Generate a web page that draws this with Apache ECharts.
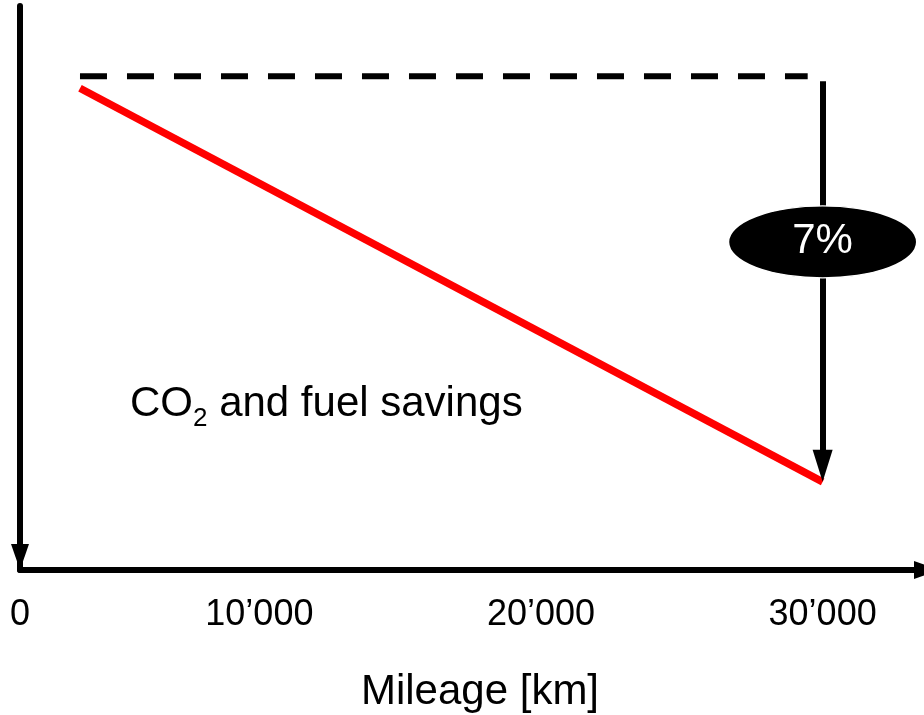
<!DOCTYPE html>
<html>
<head>
<meta charset="utf-8">
<script src="https://cdn.jsdelivr.net/npm/echarts@6/dist/echarts.min.js"></script>
<style>
  html, body {margin: 0; padding: 0; background: #fff;}
  #chart {width: 924px; height: 715px;}
</style>
</head>
<body>
<div id="chart"></div>
<script>
// x axis (km): schematic, the origin is labelled "0"
var xMin = 1500;
var xMax = 33600;
var xTickValues = [0, 10000, 20000, 30000];
var xTickLabels = ['0', '10\u2019000', '20\u2019000', '30\u2019000'];

// y axis: relative consumption index (baseline = 100)
var yMin = 91.48;
var yMax = 101.21;

var savingsLine = [[3630, 99.79], [30000, 93]];   // red line
var baselineLine = [[3630, 100], [29470, 100]];   // dashed reference
var arrowFrom = [30000, 99.91];
var arrowTo = [30000, 93.28];                     // head tip lands on the red line end
var badgePoint = [[30000, 97.14]];
var badgeText = '7%';

var font = 'Liberation Sans, Arial, sans-serif';

// the "0" tick sits on the axis origin
var tickPositions = xTickValues.map(function (v) { return Math.max(v, xMin); });

var myChart = echarts.init(document.getElementById('chart'));
myChart.setOption({
  animation: false,
  grid: {
    left: 20,
    right: 0,
    top: 6,
    bottom: 145,
    containLabel: false,
    outerBoundsMode: 'none'
  },
  xAxis: {
    type: 'value',
    min: xMin,
    max: xMax,
    name: 'Mileage [km]',
    nameLocation: 'middle',
    nameGap: 101,
    nameTextStyle: {
      fontSize: 42,
      fontFamily: font,
      color: '#000',
      padding: [0, 0, 0, 16]
    },
    axisLine: {
      show: true,
      onZero: false,
      symbol: ['none', 'triangle'],
      symbolSize: [18, 26],
      symbolOffset: [0, 3],
      lineStyle: {color: '#000', width: 6}
    },
    axisTick: {show: false},
    splitLine: {show: false},
    axisLabel: {
      show: true,
      customValues: tickPositions,
      showMinLabel: true,
      showMaxLabel: true,
      hideOverlap: false,
      formatter: function (v) {
        var i = tickPositions.indexOf(v);
        return i < 0 ? '' : xTickLabels[i];
      },
      fontSize: 36,
      fontFamily: font,
      color: '#000',
      margin: 27
    }
  },
  yAxis: {
    type: 'value',
    min: yMin,
    max: yMax,
    axisLine: {
      show: true,
      onZero: false,
      symbol: ['triangle', 'none'],
      symbolSize: [18, 26],
      symbolOffset: [13, 0],
      lineStyle: {color: '#000', width: 6}
    },
    axisTick: {show: false},
    axisLabel: {show: false},
    splitLine: {show: false}
  },
  graphic: [{
    type: 'text',
    left: 130,
    top: 377,
    style: {
      text: '{a|CO}{s|2}{a| and fuel savings}',
      rich: {
        a: {fontSize: 42, fontFamily: font, lineHeight: 48, fill: '#000'},
        // subscript: top padding pushes the "2" below the baseline
        s: {fontSize: 26, fontFamily: font, lineHeight: 26, padding: [29, 0, 0, 0], fill: '#000'}
      }
    }
  }],
  series: [
    {
      name: 'savings',
      type: 'line',
      data: savingsLine,
      symbol: 'none',
      lineStyle: {color: '#ff0000', width: 7.5, cap: 'butt'},
      z: 3
    },
    {
      name: 'baseline',
      type: 'line',
      data: baselineLine,
      symbol: 'none',
      lineStyle: {color: '#000', width: 6, type: [27, 20]},
      markLine: {
        silent: true,
        symbol: ['none', 'triangle'],
        label: {show: false},
        lineStyle: {color: '#000', width: 6, type: 'solid'},
        data: [[
          {coord: arrowFrom, symbol: 'none'},
          {coord: arrowTo, symbol: 'triangle', symbolSize: [20, 32]}
        ]]
      },
      z: 2
    },
    {
      name: 'badge',
      type: 'scatter',
      data: badgePoint,
      symbol: 'circle',
      symbolSize: [190, 72],
      itemStyle: {color: '#000', borderColor: '#fff', borderWidth: 2, opacity: 1},
      label: {
        show: true,
        position: 'inside',
        formatter: badgeText,
        fontSize: 42,
        fontFamily: font,
        color: '#fff'
      },
      z: 5
    }
  ]
});
</script>
</body>
</html>
